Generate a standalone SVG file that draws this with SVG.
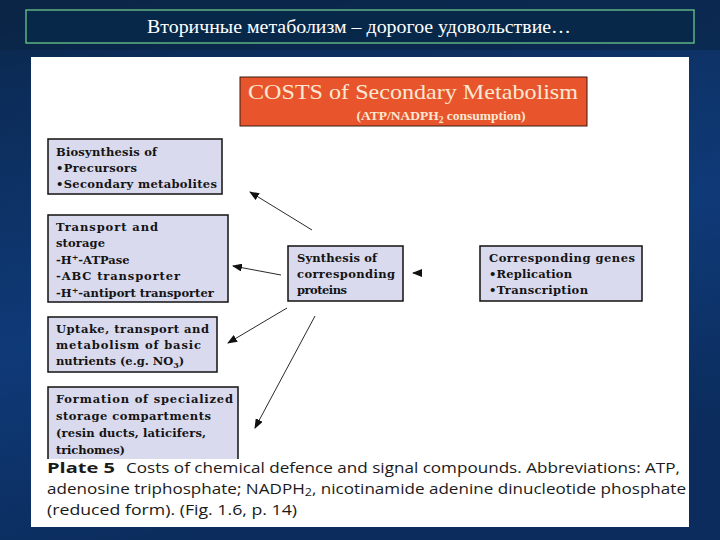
<svg xmlns="http://www.w3.org/2000/svg" width="720" height="540" viewBox="0 0 720 540">
<defs>
<linearGradient id="bg" x1="0" y1="0" x2="0.3" y2="1">
<stop offset="0" stop-color="#0a2546"/>
<stop offset="0.15" stop-color="#0c2c58"/>
<stop offset="0.6" stop-color="#0f3a78"/>
<stop offset="1" stop-color="#0b2c5c"/>
</linearGradient>
<marker id="ah" markerWidth="10" markerHeight="8" refX="9" refY="4" orient="auto" markerUnits="userSpaceOnUse">
<path d="M0,0 L10,4 L0,8 z" fill="#111"/>
</marker>
<style>
.box{fill:#dadaee;stroke:#111;stroke-width:1.5}
.bt{font-family:"DejaVu Serif","Liberation Serif",serif;font-weight:bold;font-size:11.5px;fill:#141414}
.cap{font-family:"Open Sans","Noto Sans","Liberation Sans",sans-serif;font-size:15px;fill:#1a1a1a}
.con{stroke:#2a2a2a;stroke-width:1;fill:none;marker-end:url(#ah)}
</style>
</defs>
<rect width="720" height="540" fill="url(#bg)"/>
<rect x="0" y="0" width="720" height="50" fill="#0a2444" opacity="0.6"/>
<g id="title">
<rect x="26" y="10" width="668" height="33" fill="#072848" stroke="#6cc58a" stroke-width="1.3"/>
<text x="359" y="33" text-anchor="middle" font-family="Liberation Serif, serif" font-size="19" fill="#ffffff" textLength="424" lengthAdjust="spacingAndGlyphs">Вторичные метаболизм – дорогое удовольствие…</text>
</g>
<rect x="31" y="57" width="658" height="470" fill="#ffffff"/>
<g id="header">
<rect x="240" y="77" width="347" height="49" fill="#e8552c" stroke="#3a1a10" stroke-width="1"/>
<text x="248" y="99" font-family="Liberation Serif, serif" font-size="21" fill="#fbe8d4" textLength="330" lengthAdjust="spacingAndGlyphs">COSTS of Secondary Metabolism</text>
<text x="441" y="120" text-anchor="middle" font-family="Liberation Serif, serif" font-weight="bold" font-size="13.5" fill="#fbe8d4">(ATP/NADPH<tspan font-size="9.5" dy="3">2</tspan><tspan dy="-3"> consumption)</tspan></text>
</g>
<g id="biosynthesis">
<rect class="box" x="48" y="139" width="174" height="55"/>
<text class="bt" x="56" y="156" textLength="101">Biosynthesis of</text>
<text class="bt" x="56" y="172" textLength="81">•Precursors</text>
<text class="bt" x="56" y="188" textLength="161">•Secondary metabolites</text>
</g>
<g id="transport">
<rect class="box" x="48" y="215" width="180" height="87"/>
<text class="bt" x="56" y="231" textLength="102">Transport and</text>
<text class="bt" x="56" y="247" textLength="49">storage</text>
<text class="bt" x="56" y="264">-H<tspan font-size="8" dy="-4">+</tspan><tspan dy="4">-ATPase</tspan></text>
<text class="bt" x="56" y="280" textLength="124">-ABC transporter</text>
<text class="bt" x="56" y="297">-H<tspan font-size="8" dy="-4">+</tspan><tspan dy="4">-antiport transporter</tspan></text>
</g>
<g id="uptake">
<rect class="box" x="48" y="317" width="169" height="55"/>
<text class="bt" x="56" y="333" textLength="153">Uptake, transport and</text>
<text class="bt" x="56" y="349" textLength="145">metabolism of basic</text>
<text class="bt" x="56" y="365">nutrients (e.g. NO<tspan font-size="8" dy="3">3</tspan><tspan dy="-3">)</tspan></text>
</g>
<g id="formation">
<rect x="48" y="387" width="190" height="72" fill="#dadaee"/>
<path d="M48,459 V387 H238 V459" fill="none" stroke="#111" stroke-width="1.5"/>
<text class="bt" x="56" y="403" textLength="177">Formation of specialized</text>
<text class="bt" x="56" y="420" textLength="155">storage compartments</text>
<text class="bt" x="56" y="437" textLength="150">(resin ducts, laticifers,</text>
<text class="bt" x="56" y="454" textLength="69">trichomes)</text>
</g>
<g id="synthesis">
<rect class="box" x="288" y="246" width="115" height="55"/>
<text class="bt" x="297" y="262" textLength="80">Synthesis of</text>
<text class="bt" x="297" y="278" textLength="98">corresponding</text>
<text class="bt" x="297" y="294" textLength="50">proteins</text>
</g>
<g id="genes">
<rect class="box" x="480" y="246" width="162" height="55"/>
<text class="bt" x="489" y="262" textLength="146">Corresponding genes</text>
<text class="bt" x="489" y="278" textLength="83">•Replication</text>
<text class="bt" x="489" y="294" textLength="99">•Transcription</text>
</g>
<g id="connectors">
<path class="con" d="M312,230 L250,192"/>
<path class="con" d="M281,275 L233,266"/>
<path class="con" d="M421,273 L413,273"/>
<path class="con" d="M287,308 L228,343"/>
<path class="con" d="M315,316 L255,428"/>
</g>
<g id="caption">
<text class="cap" x="47" y="473" font-weight="bold" textLength="68" lengthAdjust="spacingAndGlyphs">Plate 5</text>
<text class="cap" x="126" y="473" textLength="554" lengthAdjust="spacingAndGlyphs">Costs of chemical defence and signal compounds. Abbreviations: ATP,</text>
<text class="cap" x="47" y="494" textLength="639" lengthAdjust="spacingAndGlyphs">adenosine triphosphate; NADPH<tspan font-size="11" dy="2">2</tspan><tspan dy="-2">, nicotinamide adenine dinucleotide phosphate</tspan></text>
<text class="cap" x="47" y="515" textLength="250" lengthAdjust="spacingAndGlyphs">(reduced form). (Fig. 1.6, p. 14)</text>
</g>
</svg>
